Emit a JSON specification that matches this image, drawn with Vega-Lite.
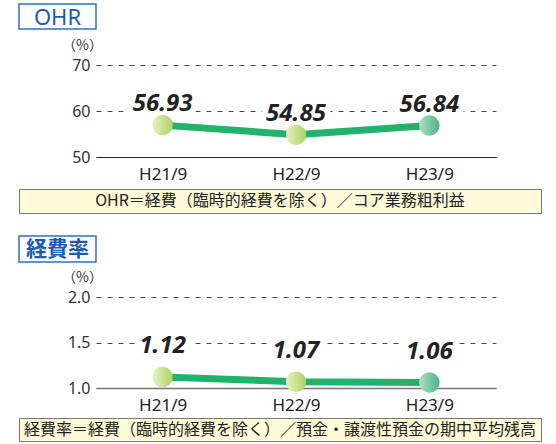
{
  "$schema": "https://vega.github.io/schema/vega-lite/v6.json",
  "padding": {"left": 18, "top": 3, "right": 0, "bottom": 0},
  "background": "white",
  "config": {"view": {"stroke": null}, "font": "Noto Sans"},
  "datasets": {
    "ohr": [
      {"period": "H21/9", "value": 56.93},
      {"period": "H22/9", "value": 54.85},
      {"period": "H23/9", "value": 56.84}
    ],
    "exp": [
      {"period": "H21/9", "value": 1.12},
      {"period": "H22/9", "value": 1.07},
      {"period": "H23/9", "value": 1.06}
    ]
  },
  "spacing": 21,
  "vconcat": [
    {
      "spacing": 6,
      "vconcat": [
        {
          "spacing": 8,
          "vconcat": [
            {
              "width": 77,
              "height": 25,
              "view": {"stroke": "#2f72c0", "strokeWidth": 1.5, "fill": "white"},
              "data": {"values": [{"label": "OHR"}]},
              "mark": {"type": "text", "font": "Noto Sans", "fontSize": 22, "color": "#1a5dab", "baseline": "middle", "dy": 1},
              "encoding": {"text": {"field": "label"}}
            },
            {
              "width": 477,
              "height": 92,
              "data": {"name": "ohr"},
              "encoding": {
                "x": {
                  "field": "period", "type": "ordinal", "title": null,
                  "scale": {"type": "point", "padding": 0.5, "range": [77, 477]},
                  "axis": {"domain": true, "domainColor": "#222", "domainWidth": 1.2, "ticks": false, "tickSize": 0, "labelPadding": 9, "labelFontSize": 17, "labelColor": "#222", "labelAngle": 0, "grid": false}
                },
                "y": {
                  "field": "value", "type": "quantitative",
                  "scale": {"domain": [50, 70], "nice": false, "zero": false},
                  "axis": {"values": [50, 60, 70], "offset": -77, "grid": true, "gridDash": [5, 6], "gridColor": "#444", "gridWidth": 1, "domain": false, "ticks": false, "tickSize": 0, "labelPadding": 6, "labelFontSize": 16, "labelColor": "#333", "title": "（%）", "titleFont": "Noto Sans CJK JP", "titleAngle": 0, "titleX": -14, "titleY": -20, "titleAlign": "center", "titleBaseline": "middle", "titleFontSize": 14, "titleFontWeight": "normal", "titleColor": "#333", "titlePadding": 0}
                }
              },
              "layer": [
                {"mark": {"type": "text", "fontSize": 24, "fontWeight": "bold", "fontStyle": "italic", "fill": "white", "stroke": "white", "strokeWidth": 12, "strokeJoin": "round", "baseline": "alphabetic", "dy": -14}, "encoding": {"text": {"field": "value", "format": ".2f"}}},
                {"mark": {"type": "line", "color": "#21b26c", "strokeWidth": 7}},
                {"transform": [{"filter": "datum.period != 'H23/9'"}], "mark": {"type": "point", "filled": true, "size": 420, "opacity": 1, "strokeWidth": 0, "fill": {"gradient": "linear", "x1": 0, "y1": 0, "x2": 1, "y2": 0, "stops": [{"offset": 0, "color": "#e8f1c4"}, {"offset": 1, "color": "#acd262"}]}}},
                {"transform": [{"filter": "datum.period == 'H23/9'"}], "mark": {"type": "point", "filled": true, "size": 420, "opacity": 1, "strokeWidth": 0, "fill": {"gradient": "linear", "x1": 0, "y1": 0, "x2": 1, "y2": 0, "stops": [{"offset": 0, "color": "#b0dec6"}, {"offset": 1, "color": "#4db584"}]}}},
                {"mark": {"type": "text", "fontSize": 24, "fontWeight": "bold", "fontStyle": "italic", "color": "#222", "baseline": "alphabetic", "dy": -14}, "encoding": {"text": {"field": "value", "format": ".2f"}}}
              ]
            }
          ]
        },
        {
          "width": 522,
          "height": 24,
          "view": {"fill": "#fffad8", "stroke": "#777", "strokeWidth": 1},
          "data": {"values": [{"note": "OHR＝経費（臨時的経費を除く）／コア業務粗利益"}]},
          "mark": {"type": "text", "font": "Noto Sans CJK JP", "fontSize": 16, "color": "#222", "baseline": "middle"},
          "encoding": {"text": {"field": "note"}}
        }
      ]
    },
    {
      "spacing": 4,
      "vconcat": [
        {
          "spacing": 7,
          "vconcat": [
            {
              "width": 77,
              "height": 26,
              "view": {"stroke": "#2f72c0", "strokeWidth": 1.5, "fill": "white"},
              "data": {"values": [{"label": "経費率"}]},
              "mark": {"type": "text", "font": "Noto Sans CJK JP", "fontSize": 21, "fontWeight": "bold", "color": "#1a5dab", "baseline": "middle", "dy": 1},
              "encoding": {"text": {"field": "label"}}
            },
            {
              "width": 477,
              "height": 91,
              "data": {"name": "exp"},
              "encoding": {
                "x": {
                  "field": "period", "type": "ordinal", "title": null,
                  "scale": {"type": "point", "padding": 0.5, "range": [77, 477]},
                  "axis": {"domain": true, "domainColor": "#777", "domainWidth": 1.5, "ticks": false, "tickSize": 0, "labelPadding": 9, "labelFontSize": 17, "labelColor": "#222", "labelAngle": 0, "grid": false}
                },
                "y": {
                  "field": "value", "type": "quantitative",
                  "scale": {"domain": [1, 2], "nice": false, "zero": false},
                  "axis": {"values": [1, 1.5, 2], "format": ".1f", "offset": -77, "grid": true, "gridDash": [5, 6], "gridColor": "#444", "gridWidth": 1, "domain": false, "ticks": false, "tickSize": 0, "labelPadding": 6, "labelFontSize": 16, "labelColor": "#333", "title": "（%）", "titleFont": "Noto Sans CJK JP", "titleAngle": 0, "titleX": -14, "titleY": -20, "titleAlign": "center", "titleBaseline": "middle", "titleFontSize": 14, "titleFontWeight": "normal", "titleColor": "#333", "titlePadding": 0}
                }
              },
              "layer": [
                {"mark": {"type": "text", "fontSize": 24, "fontWeight": "bold", "fontStyle": "italic", "fill": "white", "stroke": "white", "strokeWidth": 12, "strokeJoin": "round", "baseline": "alphabetic", "dy": -24}, "encoding": {"text": {"field": "value", "format": ".2f"}}},
                {"mark": {"type": "line", "color": "#21b26c", "strokeWidth": 7}},
                {"transform": [{"filter": "datum.period != 'H23/9'"}], "mark": {"type": "point", "filled": true, "size": 420, "opacity": 1, "strokeWidth": 0, "fill": {"gradient": "linear", "x1": 0, "y1": 0, "x2": 1, "y2": 0, "stops": [{"offset": 0, "color": "#e8f1c4"}, {"offset": 1, "color": "#acd262"}]}}},
                {"transform": [{"filter": "datum.period == 'H23/9'"}], "mark": {"type": "point", "filled": true, "size": 420, "opacity": 1, "strokeWidth": 0, "fill": {"gradient": "linear", "x1": 0, "y1": 0, "x2": 1, "y2": 0, "stops": [{"offset": 0, "color": "#b0dec6"}, {"offset": 1, "color": "#4db584"}]}}},
                {"mark": {"type": "text", "fontSize": 24, "fontWeight": "bold", "fontStyle": "italic", "color": "#222", "baseline": "alphabetic", "dy": -24}, "encoding": {"text": {"field": "value", "format": ".2f"}}}
              ]
            }
          ]
        },
        {
          "width": 522,
          "height": 23,
          "view": {"fill": "#fffad8", "stroke": "#777", "strokeWidth": 1},
          "data": {"values": [{"note": "経費率＝経費（臨時的経費を除く）／預金・譲渡性預金の期中平均残高"}]},
          "mark": {"type": "text", "font": "Noto Sans CJK JP", "fontSize": 16, "color": "#222", "baseline": "middle"},
          "encoding": {"text": {"field": "note"}}
        }
      ]
    }
  ]
}
